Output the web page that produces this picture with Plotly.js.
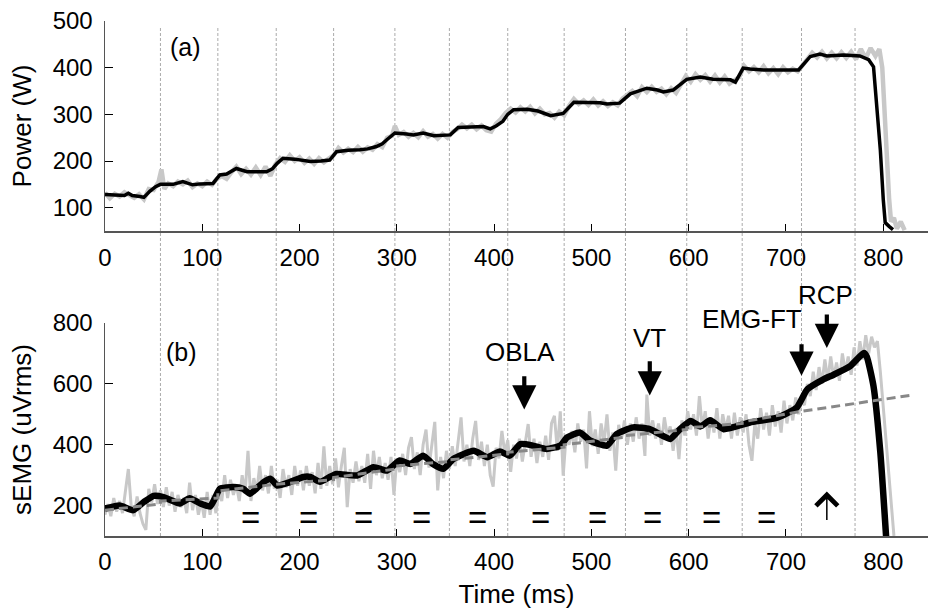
<!DOCTYPE html>
<html><head><meta charset="utf-8">
<script src="https://cdn.plot.ly/plotly-3.0.1.min.js"></script>
<style>html,body{margin:0;padding:0;background:#fff}#chart{width:928px;height:609px}</style>
</head><body><div id="chart"></div>
<script>
// ---- Panel (a): power ----
const powerRawX = [0,5,10,15,20,25,30,35,40,45,50,55,58,61,65,70,75,80,85,90,95,100,105,110,115,120,125,130,135,140,145,150,155,160,165,170,175,180,185,190,195,200,205,210,215,220,225,230,235,240,245,250,255,260,265,270,275,280,285,290,295,298,302,307,312,317,322,327,332,337,342,347,352,357,362,367,372,377,382,387,392,397,402,407,412,417,422,427,432,437,442,447,452,457,462,467,472,477,482,487,492,497,502,507,512,517,522,527,532,537,542,547,552,557,562,567,572,577,582,587,592,597,602,607,612,617,622,627,632,637,642,647,652,657,662,667,672,677,682,687,692,697,702,707,712,717,722,727,732,737,742,747,752,757,762,767,772,777,782,787,792,796,799,802,804,806,808,811,814,818,822];
const powerRawY = [132,120,130,124,133,127,121,129,118,140,138,155,182,140,152,146,156,150,158,144,152,146,156,149,162,168,162,176,188,172,183,171,186,170,188,168,192,206,198,212,200,208,196,205,194,206,197,205,212,228,218,226,219,230,220,229,224,236,230,250,254,275,256,262,252,260,251,264,252,258,248,258,250,262,268,278,270,278,268,276,266,263,280,290,303,312,304,315,306,316,302,312,300,303,293,306,298,318,333,322,330,320,332,319,328,318,326,319,334,342,350,339,358,348,359,348,355,343,356,346,365,382,370,386,374,384,370,383,368,381,366,373,380,404,392,401,390,403,388,399,386,401,390,398,392,405,418,432,422,434,420,432,420,433,421,434,418,440,420,442,425,440,400,300,200,120,70,78,55,70,52];
const powerX = [0,20,24,28,36,40,46,52,57,70,80,90,98,111,118,125,135,146,166,172,177,183,195,211,222,231,238,250,262,270,279,285,290,298,310,317,327,338,355,363,389,396,402,409,414,420,434,445,458,471,482,509,516,529,540,557,568,574,584,598,612,625,643,648,656,663,677,713,725,735,742,759,776,785,790,793,797,800,802,806,810];
const powerY = [128,126,131,126,124,122,135,145,150,150,156,149,151,152,170,172,184,177,177,183,195,206,204,199,200,202,220,223,224,226,231,237,246,260,258,256,260,254,256,272,274,269,275,285,300,310,311,307,297,302,326,325,322,324,344,356,352,348,352,375,380,375,374,369,399,397,395,395,424,429,425,427,425,417,402,331,224,118,68,60,53];

// ---- Panel (b): sEMG ----
const emgRawX = [0,3,6,9,12,15,18,21,24,27,30,33,36,39,42,45,48,51,54,57,60,63,66,69,72,75,78,81,84,87,90,93,96,99,102,105,108,111,114,117,120,123,126,129,132,135,138,141,144,147,150,153,156,159,162,165,168,171,174,177,180,183,186,189,192,195,198,201,204,207,210,213,216,219,222,225,228,231,234,237,240,243,246,249,252,255,258,261,264,267,270,273,276,279,282,285,288,291,294,297,300,303,306,309,312,315,318,321,324,327,330,333,336,339,342,345,348,351,354,357,360,363,366,369,372,375,378,381,384,387,390,393,396,399,402,405,408,411,414,417,420,423,426,429,432,435,438,441,444,447,450,453,456,459,462,465,468,471,474,477,480,483,486,489,492,495,498,501,504,507,510,513,516,519,522,525,528,531,534,537,540,543,546,549,552,555,557,560,563,566,569,572,575,578,581,584,587,590,593,596,599,602,605,608,611,614,617,620,623,626,629,632,635,638,641,644,647,650,653,656,659,662,665,668,671,674,677,680,683,686,689,692,695,698,701,704,707,710,713,716,719,722,725,728,731,734,737,740,743,746,749,752,755,758,761,764,767,770,773,776,779,782,785,788,791,794,797,800,803,806,809,811];
const emgRawY = [170,205,165,225,180,215,175,240,320,195,165,230,175,140,120,255,210,270,205,250,195,260,200,245,180,235,195,225,175,275,185,235,170,215,160,245,170,235,175,250,215,300,225,285,235,270,215,300,240,380,215,290,245,330,250,300,240,330,255,285,225,320,260,300,235,330,265,315,250,330,265,310,240,340,255,395,265,330,270,355,260,330,390,195,320,275,345,280,330,275,370,255,380,300,360,290,340,285,360,235,355,310,370,300,390,425,320,375,300,400,450,325,410,475,250,360,290,380,320,395,330,420,490,345,400,330,420,478,350,410,330,400,300,262,390,355,445,370,415,311,400,355,420,345,405,468,360,420,340,410,360,430,350,470,495,380,510,298,430,400,445,375,470,410,450,322,510,395,450,370,470,405,500,380,440,315,465,420,480,400,470,410,490,420,470,363,565,430,480,420,470,400,490,430,460,380,455,353,480,430,510,450,500,430,560,455,510,420,490,440,520,420,500,450,495,420,505,430,490,440,500,400,347,470,420,520,450,505,430,530,460,510,440,545,470,530,480,555,500,545,530,600,560,640,580,655,600,680,610,690,620,670,610,700,640,690,630,720,660,740,680,760,700,755,720,740,640,520,420,300,150,100];
const emgX = [0,15,29,40,50,60,77,87,98,108,113,118,132,142,149,163,170,177,190,204,211,221,231,238,259,276,290,303,314,327,337,348,358,379,393,406,416,427,440,454,468,475,488,499,516,526,543,560,581,591,602,612,622,636,663,691,711,722,738,749,766,780,783,790,797,803];
const emgY = [190,200,185,212,232,228,207,224,207,197,224,255,261,255,239,277,288,266,277,294,294,278,294,304,299,326,315,348,337,364,337,321,353,380,359,378,364,402,397,386,397,424,440,413,397,435,457,451,419,451,478,460,480,451,473,489,522,582,614,630,658,701,690,592,375,95];
const fitX = [0,57,57,116,116,176,176,235,235,298,298,354,354,414,414,472,472,535,535,598,598,655,655,716,830];
const fitY = [185,205,215,225,248,268,270,285,292,320,330,345,350,370,375,392,400,425,430,450,455,470,475,510,563];

// ---- stage boundaries, ticks, labels ----
const stageX = [57,116,176,235,298,354,414,472,535,598,655,716,771];
const xTicks = [0,100,200,300,400,500,600,700,800];
const powerTicks = [100,200,300,400,500];
const emgTicks = [200,400,600,800];
const eqX = [150,209,266,325,383,448,506,563,623,680];
const markerNames = ['OBLA','VT','EMG-FT','RCP'];
const markerTextX = [427,560,665,741];
const markerTextPaperY = [0.3573,0.3845,0.4214,0.4680];
const markerArrowX = [431,560,716,742];
const markerTailY = [630,679,735,833];
const markerTipY = [516,562,627,718];

const FONT = '"Liberation Sans", Arial, sans-serif';
const GRAY = '#c8c8c8';

const traces = [
  {x: powerRawX, y: powerRawY, xaxis:'x', yaxis:'y', mode:'lines', line:{color:GRAY, width:4.5}, hoverinfo:'skip'},
  {x: powerX, y: powerY, xaxis:'x', yaxis:'y', mode:'lines', line:{color:'#000', width:3.5}, hoverinfo:'skip'},
  {x: emgRawX, y: emgRawY, xaxis:'x2', yaxis:'y2', mode:'lines', line:{color:GRAY, width:3}, hoverinfo:'skip'},
  {x: emgX, y: emgY, xaxis:'x2', yaxis:'y2', mode:'lines', line:{color:'#000', width:6.5, shape:'spline', smoothing:0.5}, hoverinfo:'skip'},
  {x: fitX, y: fitY, xaxis:'x2', yaxis:'y2', mode:'lines', line:{color:'#888', width:3, dash:'9px,5px'}, hoverinfo:'skip'}
];

const shapes = stageX.map(v => ({type:'line', xref:'x', yref:'paper', x0:v, x1:v, y0:0, y1:0.988,
  line:{color:'#aaa', width:1, dash:'3px,2px'}, layer:'below'}));

const annotations = [];
annotations.push({xref:'x', yref:'y', x:83, y:444, text:'(a)', showarrow:false, font:{family:FONT, size:25, color:'#000'}});
annotations.push({xref:'x2', yref:'y2', x:79, y:705, text:'(b)', showarrow:false, font:{family:FONT, size:25, color:'#000'}});
markerNames.forEach((n,i) => {
  annotations.push({xref:'x2', yref:'paper', x:markerTextX[i], y:markerTextPaperY[i], yanchor:'middle', xanchor:'center',
    text:n, showarrow:false, font:{family:FONT, size:26, color:'#000'}});
  annotations.push({xref:'x2', yref:'y2', x:markerArrowX[i], y:markerTipY[i], axref:'x2', ayref:'y2',
    ax:markerArrowX[i], ay:markerTailY[i], text:'', showarrow:true, arrowhead:2, arrowsize:1.15, arrowwidth:4.2,
    arrowcolor:'#000', standoff:0});
});
eqX.forEach(v => annotations.push({xref:'x2', yref:'y2', x:v, y:161, text:'=', showarrow:false,
  font:{family:FONT, size:33, color:'#000'}}));
annotations.push({xref:'x2', yref:'y2', x:742, y:246, axref:'x2', ayref:'y2', ax:742, ay:148, text:'',
  showarrow:true, arrowhead:4, arrowsize:2.8, arrowwidth:1.5, arrowcolor:'#000', standoff:0});

const xBase = {range:[0,846], showline:true, linecolor:'#555', linewidth:1.5, ticks:'inside', ticklen:7,
  tickcolor:'#000', tickvals:xTicks, showgrid:false, zeroline:false, ticklabelstandoff:5,
  tickfont:{family:FONT, size:24, color:'#000'}, fixedrange:true};

const layout = {
  width:928, height:609, margin:{l:105, r:0, t:21, b:73}, showlegend:false,
  paper_bgcolor:'#fff', plot_bgcolor:'#fff', font:{family:FONT, color:'#000'},
  xaxis: Object.assign({}, xBase, {anchor:'y'}),
  xaxis2: Object.assign({}, xBase, {anchor:'y2', ticklabelstandoff:4, title:{text:'Time (ms)', font:{family:FONT, size:26, color:'#000'}, standoff:13}}),
  yaxis: {domain:[0.5922,1], range:[50,500], anchor:'x', showline:true, linecolor:'#555', linewidth:1.5,
    ticks:'inside', ticklen:8, tickcolor:'#000', tickvals:powerTicks, showgrid:false, zeroline:false,
    ticklabelstandoff:6, tickfont:{family:FONT, size:24, color:'#000'},
    title:{text:'Power (W)', font:{family:FONT, size:26, color:'#000'}, standoff:13}},
  yaxis2: {domain:[0,0.4136], range:[100,800], anchor:'x2', showline:true, linecolor:'#555', linewidth:1.5,
    ticks:'inside', ticklen:8, tickcolor:'#000', tickvals:emgTicks, showgrid:false, zeroline:false,
    ticklabelstandoff:6, tickfont:{family:FONT, size:24, color:'#000'},
    title:{text:'sEMG (uVrms)', font:{family:FONT, size:26, color:'#000'}, standoff:13}},
  shapes: shapes, annotations: annotations
};

Plotly.newPlot('chart', traces, layout, {staticPlot:true, displayModeBar:false});
</script>
</body></html>
